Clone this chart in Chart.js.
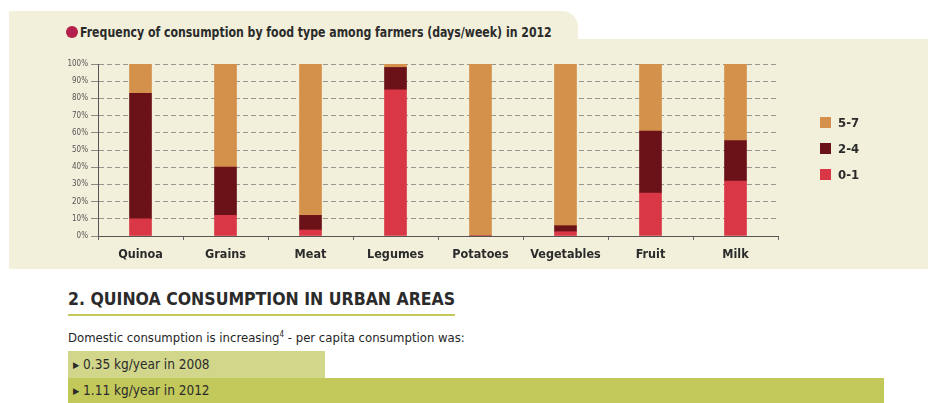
<!DOCTYPE html>
<html>
<head>
<meta charset="utf-8">
<script src="https://cdn.jsdelivr.net/npm/chart.js@4"></script>
<style>
  html, body { margin: 0; padding: 0; background: #ffffff; }
  body { width: 928px; height: 403px; position: relative; overflow: hidden;
         font-family: "DejaVu Sans Condensed", "Liberation Sans", sans-serif; color: #2b2b2b; }
  .tab { position: absolute; left: 9px; top: 11px; width: 569px; height: 40px;
         background: #f2f0da; border-top-right-radius: 16px; }
  .panel { position: absolute; left: 9px; top: 39px; width: 919px; height: 230px; background: #f2f0da; }
  .dot { position: absolute; left: 66px; top: 26px; width: 12px; height: 12px; border-radius: 50%; background: #b51f4a; }
  .title { position: absolute; left: 80px; top: 22px; font-weight: bold; font-size: 14.5px; line-height: 20px;
           white-space: nowrap; transform-origin: 0 0; transform: scaleX(0.84); }
  #wrap { position: absolute; left: 0; top: 50px; width: 928px; height: 220px; }
  .legend { position: absolute; left: 820px; top: 116px; }
  .legend div { height: 26px; font-weight: bold; font-size: 13px; line-height: 14px; white-space: nowrap; }
  .legend span { display: inline-block; width: 11px; height: 11px; margin-right: 7px; vertical-align: -1px; }
  .h2 { position: absolute; left: 68px; top: 289px; width: 387px; font-weight: bold; font-size: 17.5px; line-height: 21px;
        white-space: nowrap; padding-bottom: 4px; border-bottom: 2px solid #c3c95a; }
  .intro { position: absolute; left: 68px; top: 327px; font-size: 13px; line-height: 16px; white-space: nowrap; color: #262626; }
  .intro sup { font-size: 8px; }
  .row { position: absolute; left: 68px; font-size: 13.5px; padding-left: 5px; white-space: nowrap; box-sizing: border-box; }
  .row1 { top: 351px; width: 257px; height: 27px; line-height: 27px; background: #d1d68b; }
  .row2 { top: 378px; width: 816px; height: 25px; line-height: 25px; background: #c3c85a; }
  .tri { font-size: 9px; vertical-align: 1px; }
</style>
</head>
<body>
<div class="tab"></div>
<div class="panel"></div>
<div class="dot"></div>
<div class="title">Frequency of consumption by food type among farmers (days/week) in 2012</div>
<div id="wrap"><canvas id="c" width="928" height="220"></canvas></div>
<div class="legend" id="legend"></div>
<div class="h2">2. QUINOA CONSUMPTION IN URBAN AREAS</div>
<div class="intro">Domestic consumption is increasing<sup>4</sup> - per capita consumption was:</div>
<div class="row row1"><span class="tri">&#9654;</span> 0.35 kg/year in 2008</div>
<div class="row row2"><span class="tri">&#9654;</span> 1.11 kg/year in 2012</div>

<script>
// Food types and share of farmers (%) by days per week of consumption
const categories = ["Quinoa", "Grains", "Meat", "Legumes", "Potatoes", "Vegetables", "Fruit", "Milk"];
const days0to1 = [10, 12, 3.5, 85, 0, 2.5, 25, 32];
const days2to4 = [73, 28, 8.5, 13, 0, 3.5, 36, 23.5];
const days5to7 = [17, 60, 88, 2, 100, 94, 39, 44.5];
const yTicks = [0, 10, 20, 30, 40, 50, 60, 70, 80, 90, 100];

const seriesLabels = ["0-1", "2-4", "5-7"];
const seriesColors = ["#d93746", "#6b1218", "#d4914b"];

const fontFamily = '"DejaVu Sans Condensed", "Liberation Sans", sans-serif';

const chart = new Chart(document.getElementById("c"), {
  type: "bar",
  data: {
    labels: categories,
    datasets: [days0to1, days2to4, days5to7].map((vals, i) => ({
      label: seriesLabels[i],
      data: vals,
      backgroundColor: seriesColors[i],
      borderWidth: 0,
      barThickness: 22
    }))
  },
  options: {
    responsive: false,
    animation: false,
    layout: { padding: { left: 0, right: 150, top: 14, bottom: 0 } },
    plugins: { legend: { display: false }, tooltip: { enabled: false } },
    scales: {
      x: {
        stacked: true,
        offset: true,
        afterFit: s => { s.height = 34; },
        grid: { display: true, offset: true, drawOnChartArea: false, drawTicks: true,
                tickLength: 4, tickColor: "#666", color: "#666" },
        border: { display: true, color: "#555", width: 1 },
        ticks: { color: "#2b2b2b", padding: 7, font: { family: fontFamily, size: 12.5, weight: "bold" } }
      },
      y: {
        stacked: true,
        min: 0,
        max: 100,
        afterFit: s => { s.width = 98; },
        afterBuildTicks: s => { s.ticks = yTicks.map(v => ({ value: v })); },
        grid: { color: "#97978f", lineWidth: 1, tickLength: 7, tickColor: "#8a8a82" },
        // dashed horizontal gridlines
        border: { display: true, color: "#555", width: 1, dash: [5, 3] },
        ticks: { color: "#555", padding: 3, font: { family: fontFamily, size: 8 },
                 callback: v => v + "%" }
      }
    }
  }
});

// Legend built from the chart's datasets, top row = last stacked series
const legendEl = document.getElementById("legend");
chart.data.datasets.slice().reverse().forEach(ds => {
  const row = document.createElement("div");
  const sw = document.createElement("span");
  sw.style.background = ds.backgroundColor;
  row.appendChild(sw);
  row.appendChild(document.createTextNode(ds.label));
  legendEl.appendChild(row);
});
</script>
</body>
</html>
